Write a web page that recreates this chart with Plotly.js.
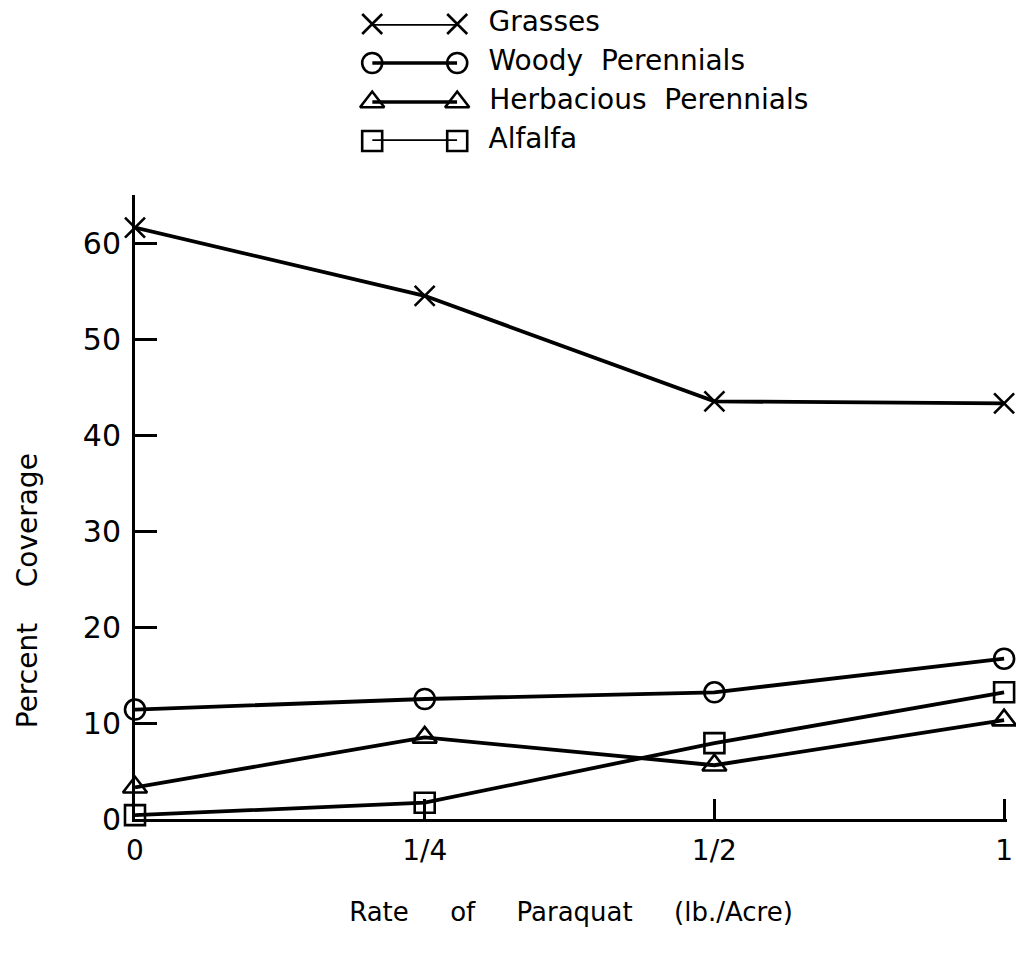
<!DOCTYPE html>
<html>
<head>
<meta charset="utf-8">
<script src="https://cdn.plot.ly/plotly-3.0.1.min.js"></script>
<style>html,body{margin:0;padding:0;background:#fff;}#chart{width:1016px;height:968px;}</style>
</head>
<body>
<div id="chart"></div>
<script>
// Rate of Paraquat (lb./Acre) – category labels
const rates = ['0', '1/4', '1/2', '1'];
// Percent coverage per vegetation type
const grasses = [61.6, 54.5, 43.5, 43.3];
const woodyPerennials = [11.4, 12.5, 13.2, 16.7];
const herbaciousPerennials = [3.3, 8.5, 5.6, 10.3];
const alfalfa = [0.4, 1.7, 7.9, 13.2];
const seriesNames = ['Grasses', 'Woody\u00a0\u00a0Perennials', 'Herbacious\u00a0\u00a0Perennials', 'Alfalfa'];
const seriesData = [grasses, woodyPerennials, herbaciousPerennials, alfalfa];
const symbols = ['x-thin', 'circle-open', 'triangle-up-open', 'square-open'];
const sizes = [20, 20, 21, 20];

const FONT = 'DejaVu Sans, sans-serif';
const traces = [];
seriesData.forEach((vals, i) => {
  traces.push({
    x: rates, y: vals, type: 'scatter', mode: 'lines+markers',
    line: {color: '#000', width: 3.8},
    marker: {symbol: symbols[i], size: sizes[i], color: '#000', line: {color: '#000', width: 2.6}},
    cliponaxis: false, showlegend: false, hoverinfo: 'none'
  });
});
// hand-drawn style legend as a small hidden subplot
seriesData.forEach((vals, i) => {
  traces.push({
    x: [0, 1], y: [i, i], xaxis: 'x2', yaxis: 'y2', type: 'scatter', mode: 'lines+markers+text',
    text: ['', '\u00a0\u00a0' + seriesNames[i]], textposition: 'middle right',
    textfont: {family: FONT, size: 28, color: '#000'},
    line: {color: '#000', width: 3.5},
    marker: {symbol: symbols[i], size: sizes[i], color: '#000', line: {color: '#000', width: 2.6}},
    cliponaxis: false, showlegend: false, hoverinfo: 'none'
  });
});

const layout = {
  width: 1016, height: 968,
  margin: {l: 135, r: 9, t: 0, b: 149},
  paper_bgcolor: '#fff', plot_bgcolor: '#fff',
  font: {family: FONT, color: '#000'},
  showlegend: false,
  xaxis: {
    type: 'category', range: [0, 3.01], showgrid: false, zeroline: false,
    showline: true, linecolor: '#000', linewidth: 3,
    ticks: 'inside', ticklen: 20, tickwidth: 3, tickcolor: '#000',
    ticklabelstandoff: 4,
    tickfont: {family: FONT, size: 28, color: '#000'},
    title: {text: 'Rate\u00a0\u00a0\u00a0\u00a0\u00a0of\u00a0\u00a0\u00a0\u00a0\u00a0Paraquat\u00a0\u00a0\u00a0\u00a0\u00a0(lb./Acre)', font: {family: FONT, size: 26, color: '#000'}, standoff: 38}
  },
  yaxis: {
    domain: [0, 0.7619], range: [0, 65], showgrid: false, zeroline: false,
    showline: true, linecolor: '#000', linewidth: 3,
    tickvals: [0, 10, 20, 30, 40, 50, 60],
    ticks: 'inside', ticklen: 22, tickwidth: 3, tickcolor: '#000',
    ticklabelstandoff: 5,
    tickfont: {family: FONT, size: 30, color: '#000'}
  },
  xaxis2: {domain: [0.272, 0.3695], range: [0, 1], visible: false, anchor: 'y2'},
  yaxis2: {domain: [0.8278, 0.9707], range: [3, 0], visible: false, anchor: 'x2'},
  annotations: [{
    text: 'Percent\u00a0\u00a0\u00a0\u00a0Coverage', textangle: -90,
    xref: 'paper', yref: 'paper', x: -0.123, y: 0.279, xanchor: 'center', yanchor: 'middle',
    showarrow: false, font: {family: FONT, size: 28, color: '#000'}
  }]
};

Plotly.newPlot('chart', traces, layout, {displayModeBar: false, staticPlot: true});
</script>
</body>
</html>
